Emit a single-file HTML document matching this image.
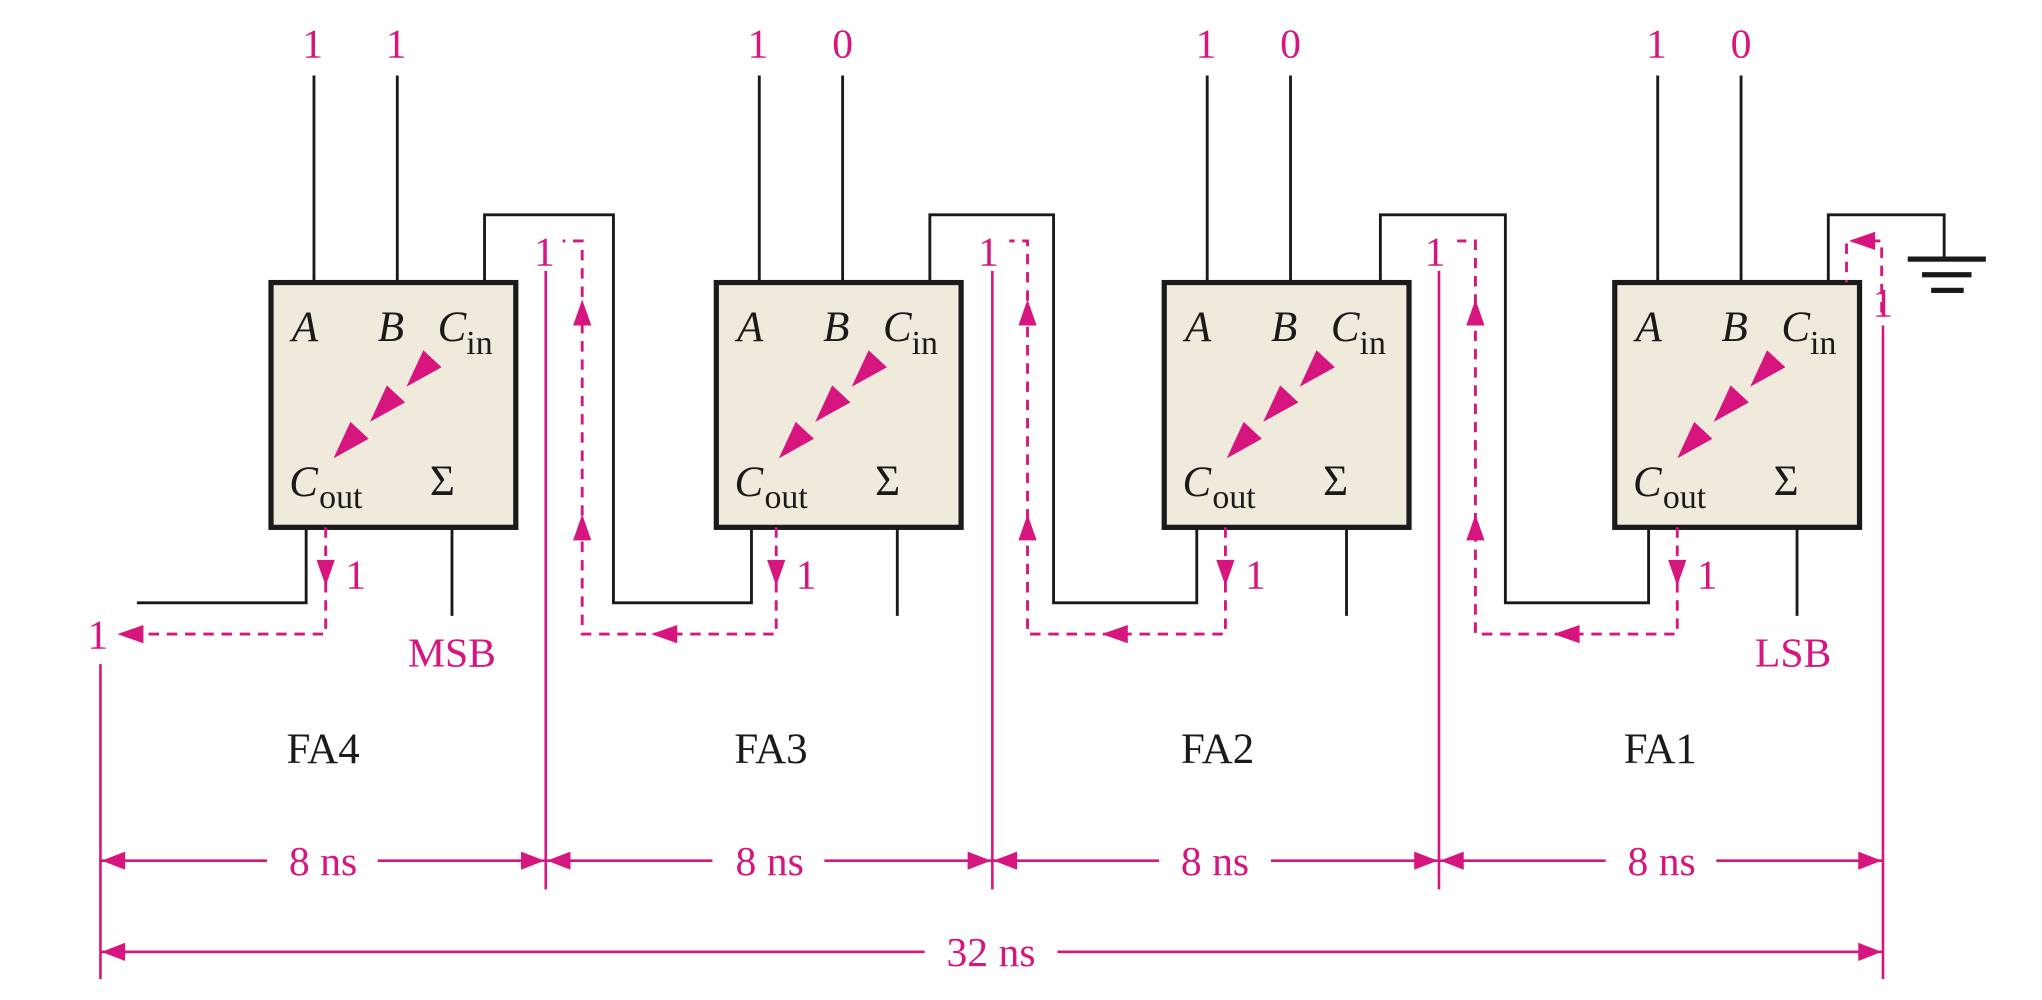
<!DOCTYPE html>
<html><head><meta charset="utf-8"><style>
html,body{margin:0;padding:0;background:#fff;}
svg{display:block;}
text{font-family:"Liberation Serif",serif;}
.m{fill:#d6157f;}
.k{fill:#1a1a1a;}
</style></head><body>
<svg width="2042" height="1000" viewBox="0 0 1568 768" xmlns="http://www.w3.org/2000/svg">
<defs>
<g id="tri"><polygon points="104,80 117,52 131,65" fill="#d6157f"/><polygon points="76,107 89,79 103,92" fill="#d6157f"/><polygon points="48,135 61,107 75,120" fill="#d6157f"/></g>
</defs>
<g stroke="#1a1a1a" stroke-width="2.2" fill="none">
<line x1="241" y1="58" x2="241" y2="217"/><line x1="305" y1="58" x2="305" y2="217"/>
<line x1="583" y1="58" x2="583" y2="217"/><line x1="647" y1="58" x2="647" y2="217"/>
<line x1="927" y1="58" x2="927" y2="217"/><line x1="991" y1="58" x2="991" y2="217"/>
<line x1="1273" y1="58" x2="1273" y2="217"/><line x1="1337" y1="58" x2="1337" y2="217"/>
<polyline points="372,217 372,165 471,165 471,463 577,463 577,405"/>
<polyline points="714,217 714,165 809,165 809,463 919,463 919,405"/>
<polyline points="1060,217 1060,165 1156,165 1156,463 1266,463 1266,405"/>
<polyline points="105,463 235,463 235,405"/>
<polyline points="1404,217 1404,165 1493,165 1493,198"/>
<line x1="347" y1="405" x2="347" y2="473"/><line x1="689" y1="405" x2="689" y2="473"/>
<line x1="1034" y1="405" x2="1034" y2="473"/><line x1="1380" y1="405" x2="1380" y2="473"/>
</g>
<g fill="#1a1a1a"><rect x="1465" y="197" width="60" height="4"/><rect x="1476" y="209" width="38" height="4"/><rect x="1483" y="221" width="25" height="4"/></g>
<g fill="#efeadc" stroke="#1a1a1a" stroke-width="4">
<rect x="208" y="217" width="188" height="188"/><rect x="550" y="217" width="188" height="188"/>
<rect x="894" y="217" width="188" height="188"/><rect x="1240" y="217" width="188" height="188"/>
</g>
<use href="#tri" x="208" y="217"/><use href="#tri" x="550" y="217"/><use href="#tri" x="894" y="217"/><use href="#tri" x="1240" y="217"/>
<g class="k" font-size="33">
<text x="224" y="262" font-style="italic">A</text><text x="290" y="262" font-style="italic">B</text><text x="336" y="262" font-style="italic">C</text><text x="358" y="272" font-size="26">in</text><text x="222" y="381" font-style="italic">C</text><text x="245" y="390" font-size="26">out</text><text x="330" y="380">Σ</text>
<text x="566" y="262" font-style="italic">A</text><text x="632" y="262" font-style="italic">B</text><text x="678" y="262" font-style="italic">C</text><text x="700" y="272" font-size="26">in</text><text x="564" y="381" font-style="italic">C</text><text x="587" y="390" font-size="26">out</text><text x="672" y="380">Σ</text>
<text x="910" y="262" font-style="italic">A</text><text x="976" y="262" font-style="italic">B</text><text x="1022" y="262" font-style="italic">C</text><text x="1044" y="272" font-size="26">in</text><text x="908" y="381" font-style="italic">C</text><text x="931" y="390" font-size="26">out</text><text x="1016" y="380">Σ</text>
<text x="1256" y="262" font-style="italic">A</text><text x="1322" y="262" font-style="italic">B</text><text x="1368" y="262" font-style="italic">C</text><text x="1390" y="272" font-size="26">in</text><text x="1254" y="381" font-style="italic">C</text><text x="1277" y="390" font-size="26">out</text><text x="1362" y="380">Σ</text>
<text x="248" y="586" text-anchor="middle">FA4</text><text x="592" y="586" text-anchor="middle">FA3</text><text x="935" y="586" text-anchor="middle">FA2</text><text x="1275" y="586" text-anchor="middle">FA1</text>
</g>
<g stroke="#d6157f" stroke-width="2.2" fill="none" stroke-dasharray="8,6">
<polyline points="250,405 250,487 95,487"/>
<polyline points="596,405 596,487 447,487 447,185 432,185"/>
<polyline points="941,405 941,487 789,487 789,185 775,185"/>
<polyline points="1288,405 1288,487 1133,487 1133,185 1119,185"/>
<polyline points="1445,240 1445,185 1418,185 1418,217"/>
</g>
<g class="m">
<polygon points="243,430 257,430 250,450"/><polygon points="589,430 603,430 596,450"/><polygon points="934,430 948,430 941,450"/><polygon points="1281,430 1295,430 1288,450"/>
<polygon points="90,487 110,480 110,494"/><polygon points="500,487 520,480 520,494"/><polygon points="846,487 866,480 866,494"/><polygon points="1193,487 1213,480 1213,494"/>
<polygon points="447,230 440,250 454,250"/><polygon points="447,395 440,415 454,415"/>
<polygon points="789,230 782,250 796,250"/><polygon points="789,395 782,415 796,415"/>
<polygon points="1133,230 1126,250 1140,250"/><polygon points="1133,395 1126,415 1140,415"/>
<polygon points="1420,185 1440,178 1440,192"/>
</g>
<g stroke="#d6157f" stroke-width="2" fill="none">
<line x1="77" y1="510" x2="77" y2="752"/>
<line x1="419" y1="208" x2="419" y2="683"/><line x1="762" y1="208" x2="762" y2="683"/><line x1="1105" y1="208" x2="1105" y2="683"/>
<line x1="1446" y1="250" x2="1446" y2="752"/>
<line x1="77" y1="661" x2="205" y2="661"/><line x1="290" y1="661" x2="419" y2="661"/>
<line x1="419" y1="661" x2="547" y2="661"/><line x1="633" y1="661" x2="762" y2="661"/>
<line x1="762" y1="661" x2="890" y2="661"/><line x1="976" y1="661" x2="1105" y2="661"/>
<line x1="1105" y1="661" x2="1233" y2="661"/><line x1="1318" y1="661" x2="1446" y2="661"/>
<line x1="77" y1="731" x2="710" y2="731"/><line x1="812" y1="731" x2="1446" y2="731"/>
</g>
<g class="m">
<polygon points="78,661 96,654 96,668"/><polygon points="418,661 400,654 400,668"/>
<polygon points="420,661 438,654 438,668"/><polygon points="761,661 743,654 743,668"/>
<polygon points="763,661 781,654 781,668"/><polygon points="1104,661 1086,654 1086,668"/>
<polygon points="1106,661 1124,654 1124,668"/><polygon points="1445,661 1427,654 1427,668"/>
<polygon points="78,731 96,724 96,738"/><polygon points="1445,731 1427,724 1427,738"/>
</g>
<g class="m" font-size="32" text-anchor="middle">
<text x="240" y="44">1</text><text x="304" y="44">1</text>
<text x="582" y="44">1</text><text x="647" y="44">0</text>
<text x="926" y="44">1</text><text x="991" y="44">0</text>
<text x="1272" y="44">1</text><text x="1337" y="44">0</text>
<text x="418" y="204">1</text><text x="759" y="204">1</text><text x="1102" y="204">1</text><text x="1446" y="243">1</text>
<text x="273" y="452">1</text><text x="619" y="452">1</text><text x="964" y="452">1</text><text x="1311" y="452">1</text>
<text x="75" y="498">1</text>
<text x="347" y="512">MSB</text><text x="1377" y="512">LSB</text>
<text x="248" y="672">8 ns</text><text x="591" y="672">8 ns</text><text x="933" y="672">8 ns</text><text x="1276" y="672">8 ns</text>
<text x="761" y="742">32 ns</text>
</g>
</svg>
</body></html>
